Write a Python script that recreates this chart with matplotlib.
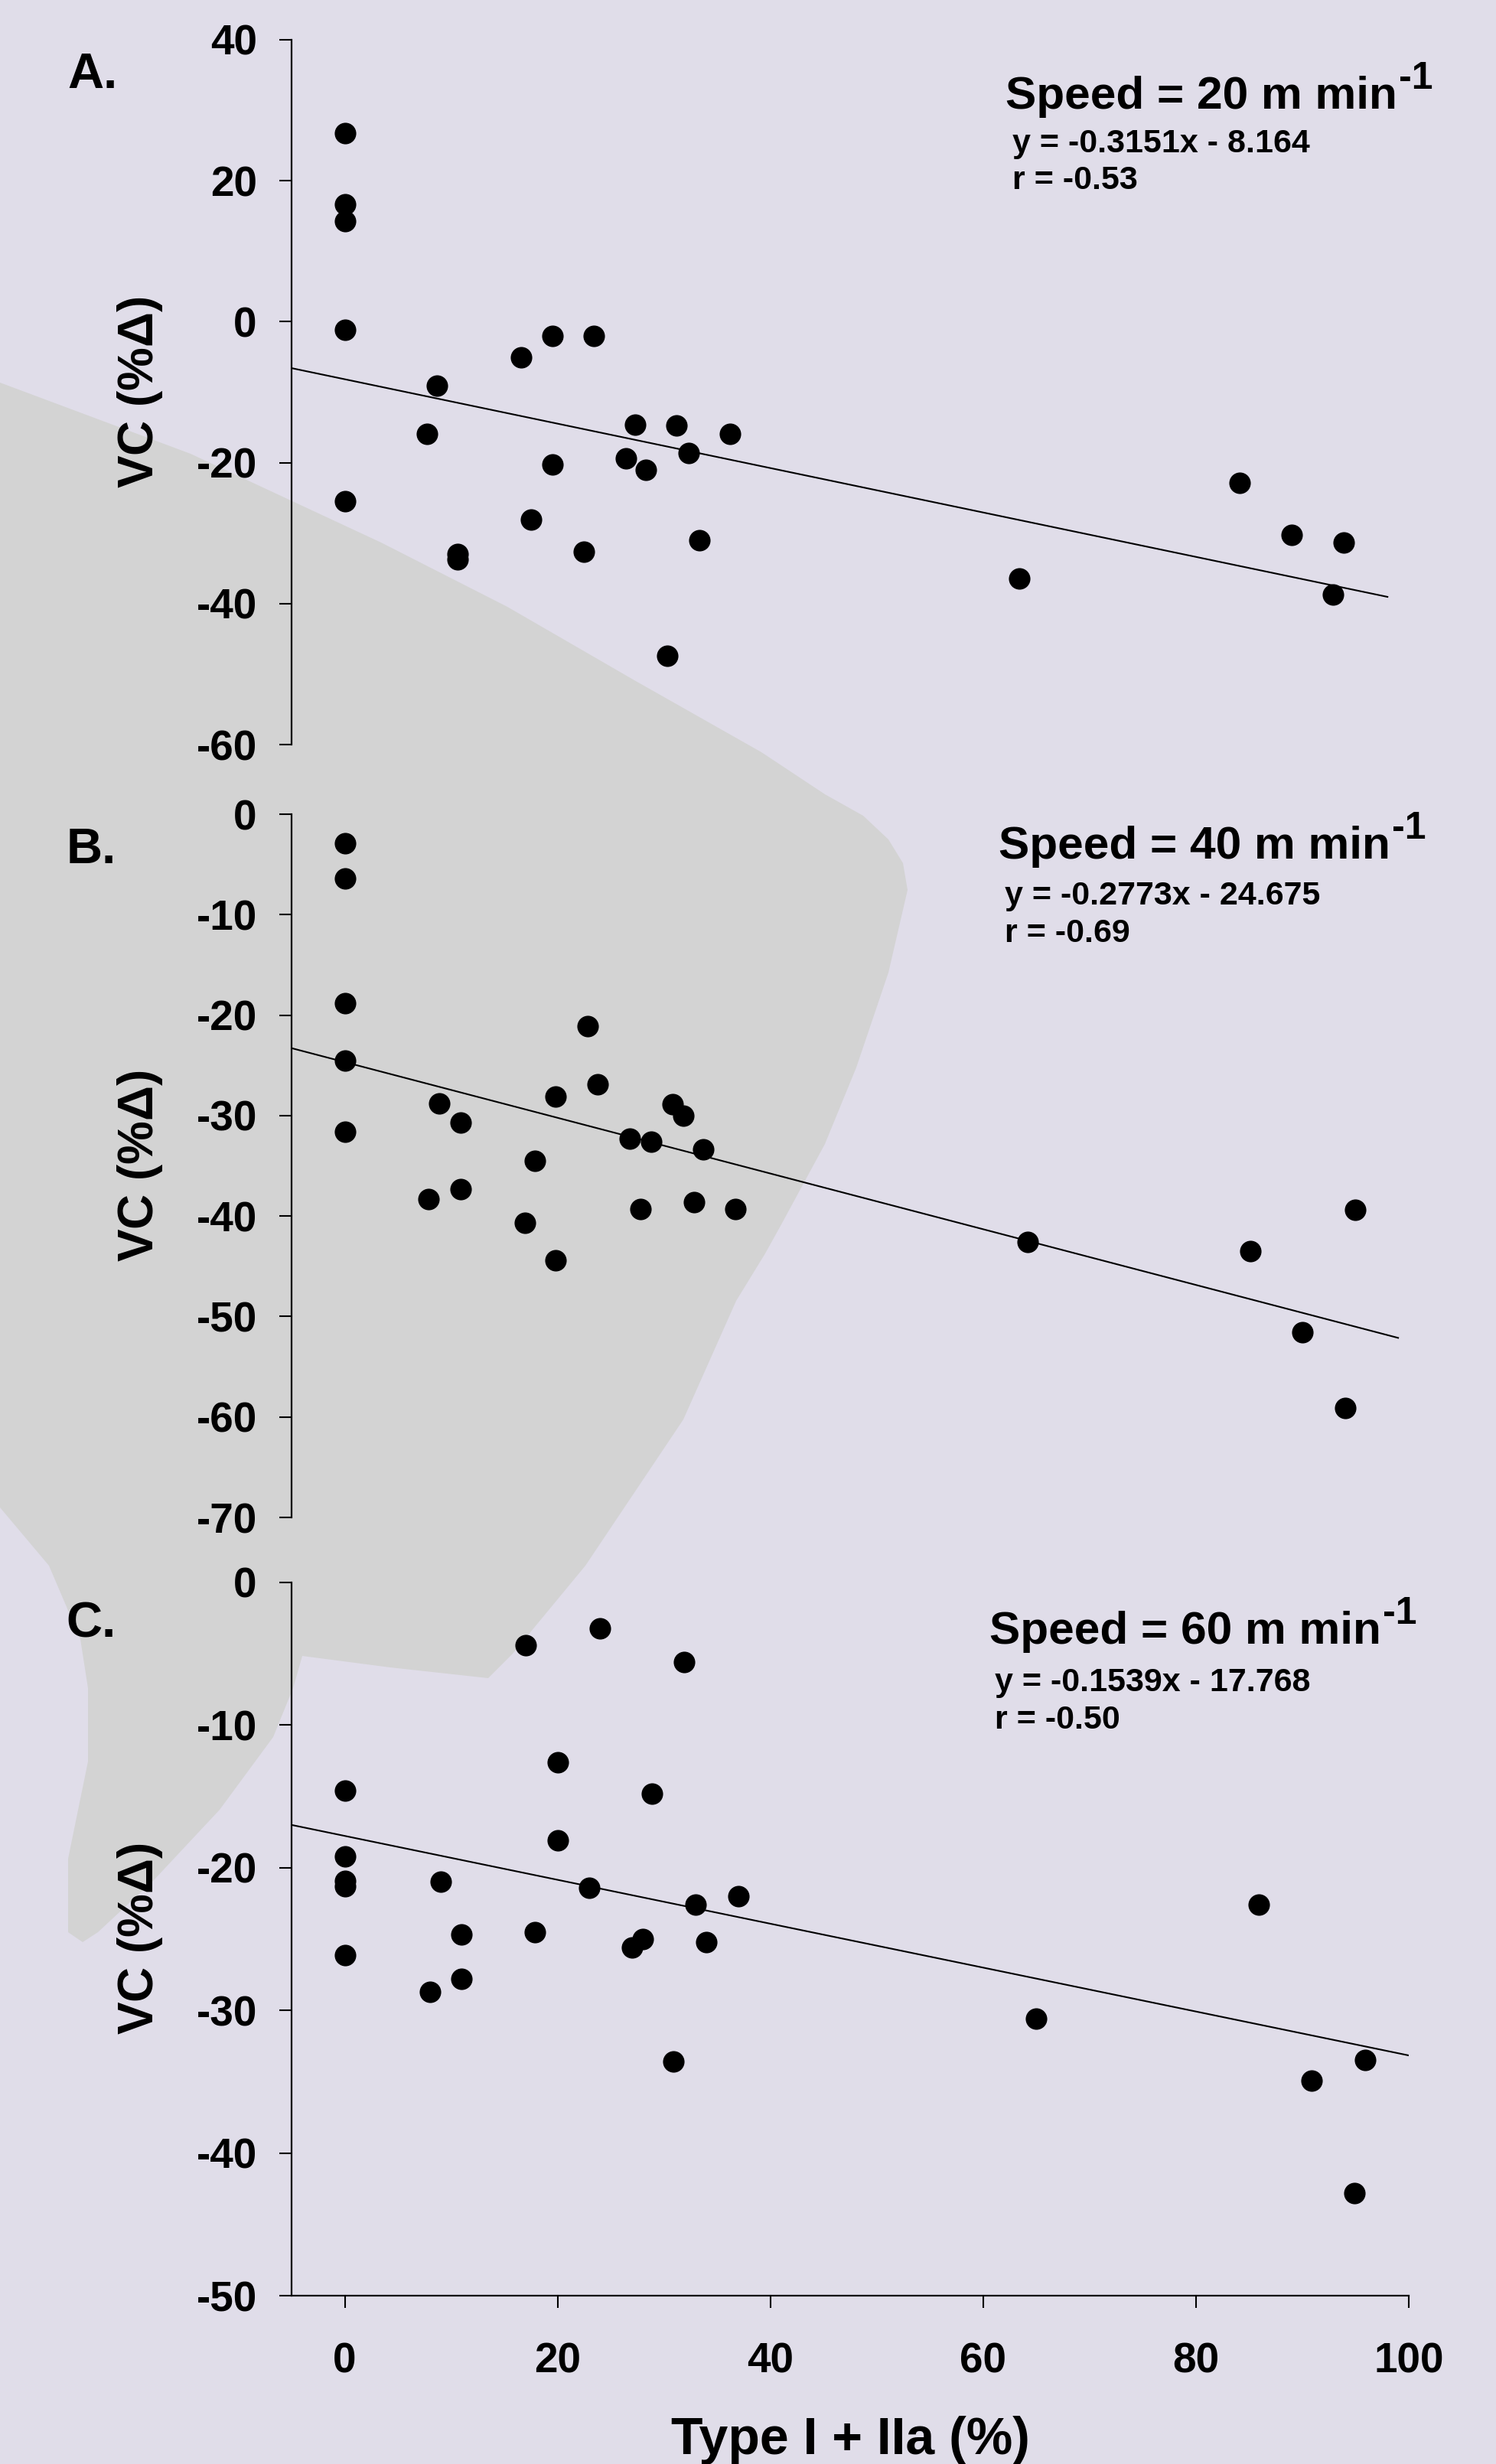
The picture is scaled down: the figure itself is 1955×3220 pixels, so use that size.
import matplotlib
matplotlib.use("Agg")
import matplotlib.pyplot as plt
from matplotlib.patches import Polygon
import numpy as np

plt.rcParams['font.family'] = ['Liberation Sans', 'DejaVu Sans']
plt.rcParams['font.weight'] = 'bold'
plt.rcParams['axes.unicode_minus'] = False
plt.rcParams['mathtext.fontset'] = 'custom'
plt.rcParams['mathtext.rm'] = 'Liberation Sans'
plt.rcParams['mathtext.it'] = 'Liberation Sans:italic'
plt.rcParams['mathtext.bf'] = 'Liberation Sans:bold'

# ---------------- data ----------------
# Panel A: speed 20 m/min
a_x = [0, 0, 0, 0, 0, 8.7, 7.7, 10.6, 10.6, 16.6, 17.5, 19.5, 19.5, 22.5, 23.4,
       26.4, 27.3, 28.3, 30.3, 31.2, 32.3, 33.3, 36.2, 63.4, 84.1, 89.0, 93.9, 92.9]
a_y = [26.8, 16.7, 14.3, -1.2, -25.5, -9.1, -15.9, -33.0, -33.7, -5.1, -28.1, -2.0, -20.3,
       -32.6, -2.0, -19.4, -14.6, -21.0, -47.4, -14.7, -18.6, -31.0, -15.9, -36.4, -22.9,
       -30.2, -31.3, -38.7]
# Panel B: speed 40 m/min
b_x = [0, 0, 0, 0, 0, 8.9, 7.9, 10.9, 10.9, 16.9, 17.9, 19.8, 19.8, 22.8, 23.8, 26.8,
       27.8, 28.8, 30.8, 31.8, 32.8, 33.7, 36.7, 64.2, 85.1, 95.0, 90.0, 94.0]
b_y = [-2.9, -6.4, -18.8, -24.5, -31.6, -28.8, -38.3, -30.7, -37.3, -40.7, -34.5, -28.1,
       -44.4, -21.1, -26.9, -32.3, -39.3, -32.6, -28.9, -30.0, -38.6, -33.4, -39.3,
       -42.6, -43.5, -39.4, -51.6, -59.1]
# Panel C: speed 60 m/min
c_x = [0, 0, 0, 0, 0, 9.0, 8.0, 11.0, 11.0, 17.0, 17.9, 20.0, 20.0, 23.0, 24.0, 27.0,
       28.0, 28.9, 30.9, 31.9, 33.0, 34.0, 37.0, 65.0, 85.9, 90.9, 95.9, 94.9]
c_y = [-14.6, -19.2, -20.9, -21.3, -26.1, -21.0, -28.7, -24.7, -27.8, -4.4, -24.5, -12.6,
       -18.1, -21.4, -3.2, -25.6, -25.0, -14.8, -33.6, -5.6, -22.6, -25.2, -22.0,
       -30.6, -22.6, -34.9, -33.5, -42.8]

slopes = [-0.3151, -0.2773, -0.1539]
intercepts = [-8.164, -24.675, -17.768]
r_values = ["-0.53", "-0.69", "-0.50"]
line_x_end = [98, 99, 100]
speeds = ["20", "40", "60"]
panel_labels = ["A.", "B.", "C."]
y_ticks = [[40, 20, 0, -20, -40, -60],
           [0, -10, -20, -30, -40, -50, -60, -70],
           [0, -10, -20, -30, -40, -50]]
x_ticks = [0, 20, 40, 60, 80, 100]
xlabel = "Type I + IIa (%)"
ylabel = r"VC (%$\Delta$)"

# ---------------- figure ----------------
W, H = 1956, 3220
BG = "#E0DDE9"
GRAY = "#D3D3D3"
fig = plt.figure(figsize=(W / 100, H / 100), dpi=100)
fig.patch.set_facecolor(BG)


def px(x, y):
    return (x / W, 1 - y / H)


# decorative gray blob in the background
outline = [(-10, 496), (0, 500), (249, 593), (498, 709), (663, 793), (829, 889), (995, 983),
           (1078, 1038), (1128, 1066), (1161, 1097), (1180, 1128), (1186, 1163),
           (1161, 1271), (1119, 1395), (1078, 1495), (1020, 1602), (1000, 1638),
           (962, 1700), (893, 1855), (765, 2046), (670, 2161), (638, 2193), (510, 2179),
           (395, 2164), (383, 2206), (357, 2270), (287, 2365), (200, 2458), (128, 2525),
           (108, 2538), (89, 2525), (89, 2429), (115, 2302), (115, 2206), (105, 2142),
           (64, 2046), (0, 1970), (-10, 1960)]
blob = Polygon([px(x, y) for x, y in outline], closed=True, facecolor=GRAY,
               edgecolor='none', transform=fig.transFigure, zorder=-5)
fig.add_artist(blob)

axes_rects = [
    (381 / W, 1 - 973 / H, 1460 / W, 921 / H),
    (381 / W, 1 - 1983 / H, 1460 / W, 919 / H),
    (381 / W, 1 - 3000 / H, 1460 / W, 932 / H),
]
ylims = [(-60, 40), (-70, 0), (-50, 0)]
xs = [a_x, b_x, c_x]
ys = [a_y, b_y, c_y]

label_pos = [(88, 115), (87, 1128), (86, 2139)]
title_pos = [(1314, 142), (1305, 1122), (1293, 2148)]
eq_pos = [(1323, 199), (1313, 1182), (1300, 2210)]
r_pos = [(1323, 247), (1313, 1231), (1300, 2259)]

TICK_FS = 39.5
renderer = fig.canvas.get_renderer()

for i in range(3):
    ax = fig.add_axes(axes_rects[i])
    ax.set_facecolor('none')
    ax.patch.set_alpha(0)
    ax.set_xlim(-5, 100)
    ax.set_ylim(*ylims[i])
    ax.scatter(xs[i], ys[i], s=410, color='black', zorder=3, linewidths=0)
    lx = np.array([-5, line_x_end[i]])
    ax.plot(lx, slopes[i] * lx + intercepts[i], color='black', lw=1.5, zorder=2)

    for s in ['top', 'right']:
        ax.spines[s].set_visible(False)
    ax.spines['left'].set_linewidth(1.6)
    ax.set_yticks(y_ticks[i])
    ax.set_yticklabels([str(t) for t in y_ticks[i]])
    ax.tick_params(axis='y', direction='out', length=11.5, width=1.5, pad=21,
                   labelsize=TICK_FS)
    if i < 2:
        ax.spines['bottom'].set_visible(False)
        ax.set_xticks([])
    else:
        ax.spines['bottom'].set_linewidth(1.6)
        ax.set_xticks(x_ticks)
        ax.set_xticklabels([str(t) for t in x_ticks])
        ax.tick_params(axis='x', direction='out', length=11.5, width=1.5, pad=32,
                       labelsize=TICK_FS)
        ax.set_xlabel(xlabel, fontsize=49, fontweight='bold')
        ax.xaxis.set_label_coords(0.5, -0.168)
        ax.xaxis.label.set_va('top')
    for lab in ax.get_yticklabels() + ax.get_xticklabels():
        lab.set_fontweight('bold')

    ax.set_ylabel(ylabel, fontsize=46, fontweight='bold')
    ax.yaxis.set_label_coords(-0.114, 0.5)

    # panel letter
    fig.text(*px(*label_pos[i]), panel_labels[i], fontsize=47, fontweight='bold',
             ha='left', va='baseline')
    # speed title with superscript
    t = fig.text(*px(*title_pos[i]), f"Speed = {speeds[i]} m min", fontsize=43.5,
                 fontweight='bold', ha='left', va='baseline')
    bb = t.get_window_extent(renderer)
    sx = bb.x1 + 2
    sy_px = title_pos[i][1] - 26
    fig.text(sx / W, 1 - sy_px / H, "-1", fontsize=36, fontweight='bold',
             ha='left', va='baseline')
    # equation and r
    sign = "-" if intercepts[i] < 0 else "+"
    fig.text(*px(*eq_pos[i]), f"y = {slopes[i]:.4f}x {sign} {abs(intercepts[i]):.3f}",
             fontsize=31, fontweight='bold', ha='left', va='baseline')
    fig.text(*px(*r_pos[i]), f"r = {r_values[i]}", fontsize=31, fontweight='bold',
             ha='left', va='baseline')

fig.savefig("out.png", dpi=100, facecolor=BG)
